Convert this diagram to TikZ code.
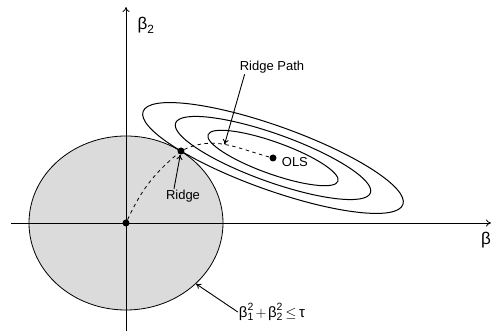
\documentclass[tikz,border=0pt]{standalone}
\usepackage{fontspec}
\setmainfont{Liberation Sans}
\usepackage{amsmath}
\usetikzlibrary{arrows.meta,positioning,shapes.geometric}

\begin{document}
\begin{tikzpicture}[
    x=1pt, y=1pt,
    axis/.style={line width=0.8pt, -{To[length=5pt,width=7pt]}},
    contour/.style={line width=1pt},
    dot/.style={circle, fill, inner sep=0pt, minimum size=7pt},
    ridgeline/.style={line width=0.8pt, dash pattern=on 3.5pt off 3.5pt},
    pointer/.style={line width=0.9pt, -{To[length=5pt,width=6pt]}},
    txt/.style={font=\fontsize{13}{15}\selectfont, inner sep=1pt},
    big/.style={font=\fontsize{17}{20}\selectfont, inner sep=1pt}
]
    \useasboundingbox (-126,-108) rectangle (367,223);
    \node[draw, ellipse, fill=black!14, line width=0.8pt, inner sep=0pt,
          minimum width=194pt, minimum height=174pt] (ball) at (0,0) {};
    \coordinate (xl) at (-115,0);
    \coordinate (xr) at (365,0);
    \coordinate (yb) at (0,-108);
    \coordinate (yt) at (0,216);
    \draw[axis] (xl) -- (xr);
    \draw[axis] (yb) -- (yt);

    \node[dot] (orig) at (0,0) {};
    \node[dot] (ridge) at (55,72) {};
    \node[dot] (ols) at (147,65) {};
    \begin{scope}[shift={(ols)}, rotate=-19.7]
        \foreach \s in {0.5,0.75,1}
            \draw[contour] (0,0) ellipse [x radius=138*\s, y radius=32*\s];
    \end{scope}

    \draw[ridgeline] (orig) to[out=65,in=-140] (ridge);
    \draw[ridgeline] (ridge) to[out=25,in=165] coordinate[pos=0.48] (rp) (ols);

    \node[txt] (rpath) at (146,156) {Ridge Path};
    \draw[pointer] ([xshift=6pt]rpath.south west) -- (rp);
    \node[txt] (rlbl) at (57,27) {Ridge};
    \draw[pointer] ([xshift=-9pt]rlbl.north) -- (ridge);
    \node[txt, right=4pt of ols, yshift=-4pt] (olslbl) {OLS};
    \node[big, font=\fontsize{15}{18}\selectfont] (cons) at (146,-89) {$\text{β}_{\text{1}}^{\text{2}}\mkern2mu{+}\mkern2mu\text{β}_{\text{2}}^{\text{2}}\mkern3mu{\leq}\mkern3mu\text{τ}$};
    \draw[pointer] (cons.west) -- (ball.-41.5);
    \node[big] (b2) at (20,198) {$\text{β}_{\text{2}}$};
    \node[big] (b1) at (360,-17) {β};
\end{tikzpicture}
\end{document}
